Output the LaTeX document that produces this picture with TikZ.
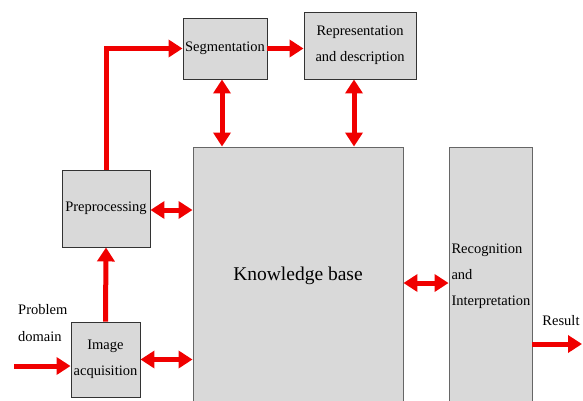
\documentclass[tikz,border=0pt]{standalone}
\usepackage{fontspec}
\setmainfont{Liberation Serif}
\usetikzlibrary{arrows.meta, positioning, calc}

\definecolor{boxgray}{RGB}{217,217,217}
\definecolor{linkred}{RGB}{240,0,0}

\begin{document}
\begin{tikzpicture}[
    x=1pt, y=-1pt,
    stage/.style={rectangle, draw=black!80, fill=boxgray, line width=0.9pt, inner sep=2pt, align=center, font=\fontsize{14.5}{26}\selectfont},
    flow/.style={draw=linkred, line width=5pt, -{Triangle[length=14pt,width=17pt]}},
    both/.style={flow, {Triangle[length=14pt,width=17pt]}-{Triangle[length=14pt,width=17pt]}},
    tag/.style={font=\fontsize{14.5}{27}\selectfont, align=left, inner sep=0pt}
]
\useasboundingbox (0,0) rectangle (583,400);

% Knowledge base (runs off the bottom)
\node[stage, draw=black!60, minimum width=210pt, minimum height=258pt, font=\fontsize{19.5}{24}\selectfont] (kb) at (298,276) {Knowledge base};

% Recognition and interpretation
\node[stage, draw=black!60, minimum height=258pt, text width=78pt, inner xsep=2.5pt, align=left] (recog) at (490.5,276) {Recognition\\and\\Interpretation};

% Front end stages
\node[stage, minimum width=69pt, minimum height=75pt] (acq) at (105.5,359.5) {Image\\acquisition};
\node[stage, minimum width=88pt, minimum height=77pt] (pre) at (106,208.5) {Preprocessing};
\node[stage, minimum width=84pt, minimum height=61pt, inner sep=0pt] (seg) at (225,48.5) {Segmentation};
\node[stage, minimum width=112pt, minimum height=67pt] (rep) at (360,45.5) {Representation\\and description};

% Input and output
\coordinate (in) at (14,366);
\coordinate (out) at (582,344);
\node[tag, anchor=west] (prob) at (18,323) {Problem\\domain};
\node[tag] (res) at (561,321) {Result};

% Arrows
\draw[flow] (in) -- (in -| acq.west);
\draw[flow] (acq.north) -- (pre.south);
\draw[flow] (pre.north) |- (seg.west);
\draw[flow] (seg.east) -- (seg.east -| rep.west);
\draw[flow] (recog.east |- out) -- (out);

% Links to the knowledge base
\draw[both] ([xshift=-3pt]seg.south) -- ([xshift=-3pt]seg.south |- kb.north);
\draw[both] ([xshift=-6pt]rep.south) -- ([xshift=-6pt]rep.south |- kb.north);
\draw[both] ([yshift=-1.5pt]pre.east) -- ([yshift=-1.5pt]pre.east -| kb.west);
\draw[both] (acq.east) -- (acq.east -| kb.west);
\draw[both] ([yshift=-7pt]kb.east) -- ([yshift=-7pt]recog.west);

\end{tikzpicture}
\end{document}
